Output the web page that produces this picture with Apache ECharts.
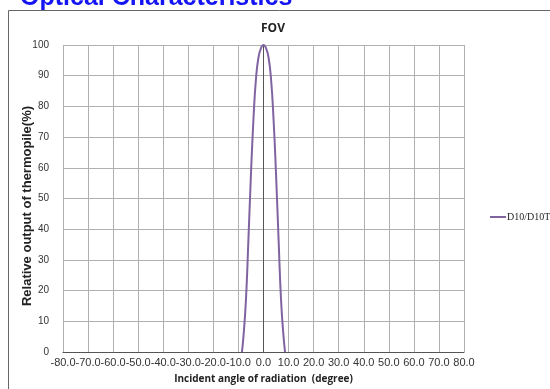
<!DOCTYPE html>
<html>
<head>
<meta charset="utf-8">
<script src="https://cdn.jsdelivr.net/npm/echarts@6/dist/echarts.min.js"></script>
<style>
html,body{margin:0;padding:0;background:#fff;}
#chart{width:550px;height:389px;}
</style>
</head>
<body>
<div id="chart"></div>
<script>
var angles = [-8.6, -8, -7, -6, -5, -4, -3, -2, -1, 0, 1, 2, 3, 4, 5, 6, 7, 8, 8.6];
var output = [0, 5, 17, 37, 58, 76, 89, 96, 99, 100, 99, 96, 89, 76, 58, 37, 17, 5, 0];
var seriesName = 'D10/D10T';
var chartTitle = 'FOV';
var headerText = 'Optical Characteristics';
var xName = 'Incident angle of radiation  (degree)';
var yName = 'Relative output of thermopile(%)';

var data = angles.map(function (a, i) { return [a, output[i]]; });
var chart = echarts.init(document.getElementById('chart'));
chart.setOption({
  animation: false,
  backgroundColor: '#fff',
  graphic: [
    { type: 'text', left: 20, top: -14, z: 10,
      style: { text: headerText, fill: '#1414f5', font: 'bold 25px "Liberation Sans", Arial, sans-serif' } },
    { type: 'rect', shape: { x: 8.5, y: 10.5, width: 600, height: 500 }, z: 5, silent: true,
      style: { fill: 'none', stroke: '#666', lineWidth: 1 } },
    { type: 'text', x: 27, y: 206, rotation: Math.PI / 2, z: 10,
      style: { text: yName, fill: '#222', align: 'center', verticalAlign: 'middle',
        font: 'bold 13px "Liberation Sans", Arial, sans-serif' } }
  ],
  title: {
    text: chartTitle, left: 256, top: 18,
    textStyle: { fontSize: 12, fontWeight: 'bold', color: '#222', fontFamily: '"Open Sans", "Liberation Sans", sans-serif' }
  },
  legend: {
    left: 485, top: 207, itemWidth: 16, itemHeight: 2, itemGap: 2,
    icon: 'rect',
    textStyle: { fontFamily: '"Liberation Serif", serif', fontSize: 10, color: '#222', padding: [0,0,0,-4] },
    data: [{ name: seriesName, icon: 'rect' }]
  },
  grid: { left: 63, right: 86, top: 45, bottom: 37 },
  xAxis: {
    type: 'value', min: -80, max: 80, interval: 10,
    name: xName, nameLocation: 'middle', nameGap: 22,
    nameTextStyle: { fontSize: 10, fontWeight: 'bold', color: '#222', fontFamily: '"Open Sans", "Liberation Sans", sans-serif' },
    axisLine: { show: true, onZero: false, lineStyle: { color: '#555', width: 1 } },
    axisTick: { show: false },
    axisLabel: { fontSize: 11, color: '#333', margin: 5, fontFamily: '"Liberation Sans", Arial, sans-serif',
      formatter: function (v) { return v.toFixed(1); } },
    splitLine: { show: true, lineStyle: { color: '#b0b0b0', width: 1 } }
  },
  yAxis: {
    type: 'value', min: 0, max: 100, interval: 10,
    axisLine: { show: true, lineStyle: { color: '#555', width: 1 } },
    axisTick: { show: false },
    axisLabel: { fontSize: 10, color: '#333', margin: 14, fontFamily: '"Liberation Sans", Arial, sans-serif' },
    splitLine: { show: true, lineStyle: { color: '#b0b0b0', width: 1 } }
  },
  series: [{
    name: seriesName, type: 'line', data: data, smooth: true,
    showSymbol: false, symbol: 'none',
    lineStyle: { color: '#8064a2', width: 2 }, itemStyle: { color: '#8064a2' }
  }]
});
</script>
</body>
</html>
